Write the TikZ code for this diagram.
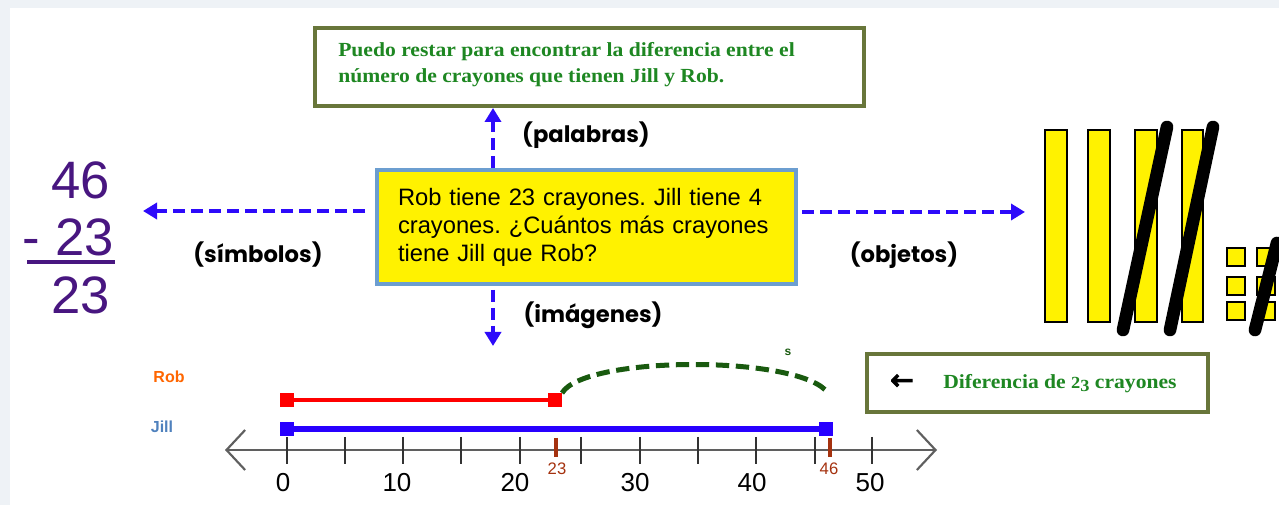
\documentclass[tikz,border=0pt]{standalone}
\usepackage{fontspec}
\usepackage{graphicx}
\usetikzlibrary{arrows.meta}
\newfontfamily\arialf{Liberation Sans}
\newfontfamily\seriff{Liberation Serif}[FakeStretch=1.08]
\newfontfamily\gothf{Poppins}
\newfontfamily\dejaf{DejaVu Sans}[FakeBold=4]
\definecolor{bgout}{RGB}{238,242,246}
\definecolor{arrowblue}{RGB}{45,10,250}
\definecolor{olive}{RGB}{104,118,58}
\definecolor{tgreen}{RGB}{30,135,34}
\definecolor{cboxblue}{RGB}{108,158,208}
\definecolor{purp}{RGB}{72,22,128}
\definecolor{robor}{RGB}{255,102,0}
\definecolor{jillb}{RGB}{79,129,189}
\definecolor{lineblue}{RGB}{40,0,255}
\definecolor{dkgreen}{RGB}{25,90,15}
\definecolor{brownr}{RGB}{165,50,15}
\definecolor{axisgray}{RGB}{95,95,95}
\newcommand{\osnum}{{\scalebox{0.85}{2}\raisebox{-0.28ex}{\scalebox{0.85}{3}}}}
\frenchspacing
\begin{document}
\begin{tikzpicture}[x=0.75pt,y=-0.75pt,
  dasharrow/.style={draw=arrowblue,line width=3pt,dash pattern=on 9pt off 4.5pt,
    -{Triangle[length=10.5pt,width=12pt]}},
  olivebox/.style={draw=olive,line width=3pt,fill=white,inner sep=0pt},
  greentext/.style={text=tgreen,font=\seriff\bfseries\fontsize{15}{19.5}\selectfont,inner sep=0pt},
  lbl/.style={font=\gothf\bfseries\fontsize{17}{20}\selectfont,inner sep=0pt},
  purpnum/.style={text=purp,font=\arialf\fontsize{39.5}{44}\selectfont,inner sep=0pt,anchor=east},
  tens/.style={draw=black,line width=2pt,fill=yellow},
  unitsq/.style={draw=black,line width=1.6pt,fill=yellow},
  slash/.style={line width=9.5pt,line cap=round,draw=black},
  endsq/.style={minimum size=10.5pt,inner sep=0pt,outer sep=0pt},
  tick/.style={draw=black!80,line width=1.8pt},
  numlab/.style={font=\arialf\fontsize{19.5}{22}\selectfont,inner sep=0pt},
  redlab/.style={font=\arialf\fontsize{12.5}{14}\selectfont,text=brownr,inner sep=0pt},
  namelab/.style={font=\arialf\bfseries\fontsize{12}{14}\selectfont,inner sep=0pt}]
\useasboundingbox (0,0) rectangle (1279,505);
\fill[bgout] (0,0) rectangle (1279,505);
\fill[white] (10,8) rectangle (1279,505);

% top box
\node[olivebox,minimum width=411.75pt,minimum height=58.5pt] (top) at (589.5,67) {};
\node[greentext,anchor=north west,align=left] (toptxt) at (338,42)
  {Puedo restar para encontrar la diferencia entre el\\ número de crayones que tienen Jill y Rob.};

% center box
\node[draw=cboxblue,line width=3pt,fill=yellow,minimum width=314.25pt,minimum height=85.5pt,
  text width=282.75pt,inner xsep=15.75pt,align=left,
  font=\arialf\fontsize{17.8}{21}\selectfont] (c) at (586.5,227)
  {Rob tiene 23 crayones. Jill tiene 4\\ crayones. ¿Cuántos más crayones\\ tiene Jill que Rob?\\[-7pt]};

% arrows
\coordinate (upx) at (493,0);
\coordinate (leftend) at (143,211);
\coordinate (rightend) at (1025,212);
\coordinate (downend) at (493,346);
\draw[dasharrow] (c.north -| upx) -- (top.south -| upx);
\draw[dasharrow] ([xshift=-7.5pt]c.west |- leftend) -- (leftend);
\draw[dasharrow] ([xshift=3pt]c.east |- rightend) -- (rightend);
\draw[dasharrow] ([yshift=-3pt]c.south -| upx) -- (downend);

% labels
\node[lbl] (palabras) at (586,135) {(palabras)};
\node[lbl] (simbolos) at (258,255) {(símbolos)};
\node[lbl] (objetos) at (904,255) {(objetos)};
\node[lbl] (imagenes) at (593,315) {(imágenes)};

% symbols
\node[purpnum] (n46) at (110,180) {46};
\node[purpnum] (n23a) at (114,237) {- 23};
\node[purpnum] (n23b) at (110,295) {23};
\coordinate (ulL) at (27,262);
\coordinate (ulR) at (115,262);
\draw[purp,line width=2.4pt] (ulL) -- (ulR);

% objects
\foreach \xa/\xb in {1045/1067,1088/1110,1135/1157,1182/1203}
  \draw[tens] (\xa,130) rectangle (\xb,322);
\foreach \xa in {1227,1257}
  \foreach \ya in {248,277,302}
    \draw[unitsq] (\xa,\ya) rectangle (\xa+18,\ya+18);
\draw[slash] (1167,127) -- (1123,330);
\draw[slash] (1213,127) -- (1170,330);
\draw[slash] (1277,243) -- (1255,330);

% number line
\coordinate (axL) at (225,450);
\coordinate (axR) at (937,450);
\draw[draw=axisgray,line width=1.6pt,
  {Straight Barb[length=14pt,width=30pt]}-{Straight Barb[length=14pt,width=30pt]}] (axL) -- (axR);
\foreach \x in {287,345,403,461,520,581,640,698,756,815,872}
  \draw[tick] (\x,437) -- (\x,464);
\foreach \x/\l in {283/0,397/10,515/20,635/30,752/40,870/50}
  \node[numlab] (lab\l) at (\x,483) {\l};
\draw[brownr,line width=2.6pt] (556,438) -- (556,457);
\draw[brownr,line width=2.6pt] (830,438) -- (830,457);
\node[redlab] (lab23) at (557,469) {23};
\node[redlab] (lab46) at (829,469) {46};

% Rob and Jill bars
\node[namelab,text=robor] (rob) at (169,377) {Rob};
\node[namelab,text=jillb] (jill) at (162,427) {Jill};
\node[endsq,fill=red] (r0) at (287,400) {};
\node[endsq,fill=red] (r23) at (555,400) {};
\draw[red,line width=3pt] (r0) -- (r23);
\node[endsq,fill=lineblue] (j0) at (287,429) {};
\node[endsq,fill=lineblue] (j46) at (826,429) {};
\draw[lineblue,line width=3.8pt] (j0) -- (j46);

% difference arc
\coordinate (arcend) at (828,393);
\draw[dkgreen,line width=3.75pt,dash pattern=on 10pt off 5pt]
  (r23.north east) .. controls (585,355) and (801,355) .. (arcend);
\node[font=\arialf\bfseries\fontsize{9}{10}\selectfont,text=dkgreen,inner sep=0pt] (s) at (788,352) {s};

% difference box
\node[olivebox,minimum width=255.75pt,minimum height=43.5pt] (dif) at (1037.5,383) {};
\node[inner sep=0pt,font=\dejaf\fontsize{21}{22}\selectfont] (difarrow) at (902,382) {←};
\node[greentext,anchor=west] (diftxt) at (943,384) {Diferencia de \osnum\ crayones};
\end{tikzpicture}
\end{document}
